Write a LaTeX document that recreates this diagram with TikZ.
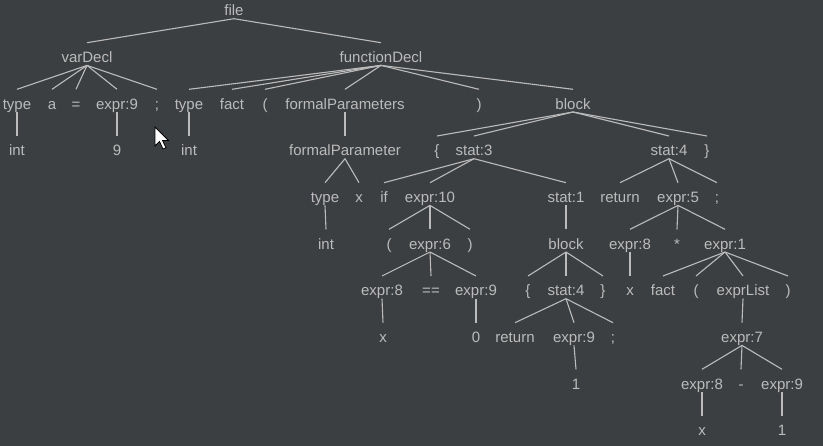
\documentclass[tikz,border=0pt]{standalone}
\usepackage{fontspec}
\setmainfont{Liberation Sans}
\definecolor{bg}{HTML}{3C3F41}
\definecolor{fg}{HTML}{BBBBBB}
\begin{document}
\begin{tikzpicture}[x=1pt,y=-1pt,
  t/.style={text=fg, font=\fontsize{15}{18}\selectfont, inner sep=0pt, outer sep=0pt,
            text height=20pt, text depth=2.7pt, anchor=base},
  e/.style={draw=fg, line width=1.1pt}]
\fill[bg] (0,0) rectangle (823,446);
\useasboundingbox (0,0) rectangle (823,446);
% row 0
\node[t] (file) at (234,16) {file};
% row 1
\node[t] (varDecl) at (87,62.7) {varDecl};
\node[t] (funDecl) at (381,62.7) {functionDecl};
% row 2
\node[t] (typeA) at (17,109.3) {type};
\node[t] (a) at (52,109.3) {a};
\node[t] (eq) at (76,109.3) {=};
\node[t] (eNineA) at (117,109.3) {expr:9};
\node[t] (semiA) at (157,109.3) {;};
\node[t] (typeB) at (189,109.3) {type};
\node[t] (factA) at (232,109.3) {fact};
\node[t] (lpA) at (265,109.3) {(};
\node[t] (fParams) at (345,109.3) {formalParameters};
\node[t] (rpA) at (479,109.3) {)};
\node[t] (blockA) at (573,109.3) {block};
% row 3
\node[t] (intA) at (17,156) {int};
\node[t] (nine) at (117,156) {9};
\node[t] (intB) at (189,156) {int};
\node[t] (fParam) at (345,156) {formalParameter};
\node[t] (lbA) at (437,156) {\{};
\node[t] (statThree) at (474,156) {stat:3};
\node[t] (statFourA) at (669,156) {stat:4};
\node[t] (rbA) at (707,156) {\}};
% row 4
\node[t] (typeC) at (325,202.7) {type};
\node[t] (xA) at (359,202.7) {x};
\node[t] (if) at (384,202.7) {if};
\node[t] (eTen) at (430,202.7) {expr:10};
\node[t] (statOne) at (566,202.7) {stat:1};
\node[t] (retA) at (620,202.7) {return};
\node[t] (eFive) at (678,202.7) {expr:5};
\node[t] (semiB) at (717,202.7) {;};
% row 5
\node[t] (intC) at (326,249.3) {int};
\node[t] (lpB) at (389,249.3) {(};
\node[t] (eSix) at (430,249.3) {expr:6};
\node[t] (rpB) at (470,249.3) {)};
\node[t] (blockB) at (566,249.3) {block};
\node[t] (eEightB) at (630,249.3) {expr:8};
\node[t] (star) at (677,249.3) {*};
\node[t] (eOne) at (725,249.3) {expr:1};
% row 6
\node[t] (eEightA) at (382,296) {expr:8};
\node[t] (eqeq) at (431,296) {==};
\node[t] (eNineB) at (476,296) {expr:9};
\node[t] (lbB) at (528,296) {\{};
\node[t] (statFourB) at (566,296) {stat:4};
\node[t] (rbB) at (603,296) {\}};
\node[t] (xC) at (630,296) {x};
\node[t] (factB) at (663,296) {fact};
\node[t] (lpC) at (696,296) {(};
\node[t] (eList) at (743,296) {exprList};
\node[t] (rpC) at (788,296) {)};
% row 7
\node[t] (xB) at (383,342.7) {x};
\node[t] (zero) at (476,342.7) {0};
\node[t] (retB) at (515,342.7) {return};
\node[t] (eNineC) at (574,342.7) {expr:9};
\node[t] (semiC) at (613,342.7) {;};
\node[t] (eSeven) at (742,342.7) {expr:7};
% row 8
\node[t] (oneA) at (576,389.3) {1};
\node[t] (eEightC) at (702,389.3) {expr:8};
\node[t] (minus) at (741,389.3) {-};
\node[t] (eNineD) at (782,389.3) {expr:9};
% row 9
\node[t] (xD) at (702,436) {x};
\node[t] (oneB) at (782,436) {1};
% edges
\foreach \p/\c in {file/varDecl, file/funDecl,
  varDecl/typeA, varDecl/a, varDecl/eq, varDecl/eNineA, varDecl/semiA,
  typeA/intA, eNineA/nine,
  funDecl/typeB, funDecl/factA, funDecl/lpA, funDecl/fParams, funDecl/rpA, funDecl/blockA,
  typeB/intB, fParams/fParam, fParam/typeC, fParam/xA, typeC/intC,
  blockA/lbA, blockA/statThree, blockA/statFourA, blockA/rbA,
  statThree/if, statThree/eTen, statThree/statOne,
  eTen/lpB, eTen/eSix, eTen/rpB,
  eSix/eEightA, eSix/eqeq, eSix/eNineB, eEightA/xB, eNineB/zero,
  statOne/blockB, blockB/lbB, blockB/statFourB, blockB/rbB,
  statFourB/retB, statFourB/eNineC, statFourB/semiC, eNineC/oneA,
  statFourA/retA, statFourA/eFive, statFourA/semiB,
  eFive/eEightB, eFive/star, eFive/eOne, eEightB/xC,
  eOne/factB, eOne/lpC, eOne/eList, eOne/rpC,
  eList/eSeven, eSeven/eEightC, eSeven/minus, eSeven/eNineD,
  eEightC/xD, eNineD/oneB}
  \draw[e] (\p.south) -- (\c.north);
% mouse cursor
\filldraw[fill=white, draw=black, line width=0.8pt, line join=miter]
  (155,127) -- (155,146) -- (159.5,141.5) -- (163,149) -- (166,147.8) -- (162.5,140.5) -- (168.5,140.5) -- cycle;
\end{tikzpicture}
\end{document}
